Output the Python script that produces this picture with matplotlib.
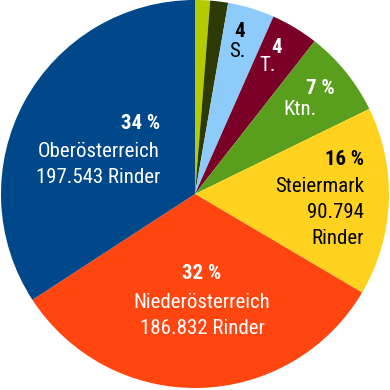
import matplotlib
matplotlib.use("Agg")
import matplotlib.pyplot as plt

# Rinder je Bundesland (clockwise from the top)
states = ["W./Bgld.", "Vbg.", "S.", "T.", "Ktn.", "Steiermark", "Niederösterreich", "Oberösterreich"]
cattle = [7200, 8600, 22500, 22800, 41600, 90794, 186832, 197543]
colors = ["#b3cc00", "#2e3a05", "#8ccbfa", "#7a0027", "#5a9e1e", "#ffd21f", "#ff4510", "#004889"]

# label text per slice (None = no label)
pct_labels = [None, None, "4", "4", "7 %", "16 %", "32 %", "34 %"]
name_labels = [None, None, ["S."], ["T."], ["Ktn."], ["Steiermark", "90.794", "Rinder"],
               ["Niederösterreich", "186.832 Rinder"], ["Oberösterreich", "197.543 Rinder"]]
text_colors = [None, None, "black", "white", "white", "black", "white", "white"]

# layout: label x anchor, pct line y, name line ys (pixels, y from top)
label_x = [None, None, 240, 277, 320, 364, 202, 160]
name_x = [None, None, 237, 268, 300, 364, 202, 160]
pct_y = [None, None, 30, 46, 87, 158, 272, 122]
name_y = [None, None, [50], [64], [108], [185, 211, 237], [301, 327], [150, 176]]
aligns = [None, None, "center", "center", "center", "right", "center", "right"]

W = 390
FS = 15
CAP = 0.711 * FS * 100 / 72 / 2  # half cap height in px

fig = plt.figure(figsize=(3.9, 3.9), dpi=100)
ax = fig.add_axes([0, 0, 1, 1])
ax.pie(cattle, colors=colors, startangle=90, counterclock=False,
       radius=194, center=(195, 196), wedgeprops=dict(linewidth=0))
ax.set_xlim(0, W)
ax.set_ylim(0, W)
ax.set_aspect("equal")
ax.axis("off")

font = ["Roboto Condensed", "Roboto", "DejaVu Sans"]
for i in range(len(cattle)):
    if pct_labels[i] is None:
        continue
    ax.text(label_x[i], W - pct_y[i] - CAP, pct_labels[i], ha=aligns[i], va="baseline",
            color=text_colors[i], fontsize=FS, fontweight="bold", family=font)
    for line, ly in zip(name_labels[i], name_y[i]):
        ax.text(name_x[i], W - ly - CAP, line, ha=aligns[i], va="baseline",
                color=text_colors[i], fontsize=FS, family=font)

fig.savefig("out.png", dpi=100)
